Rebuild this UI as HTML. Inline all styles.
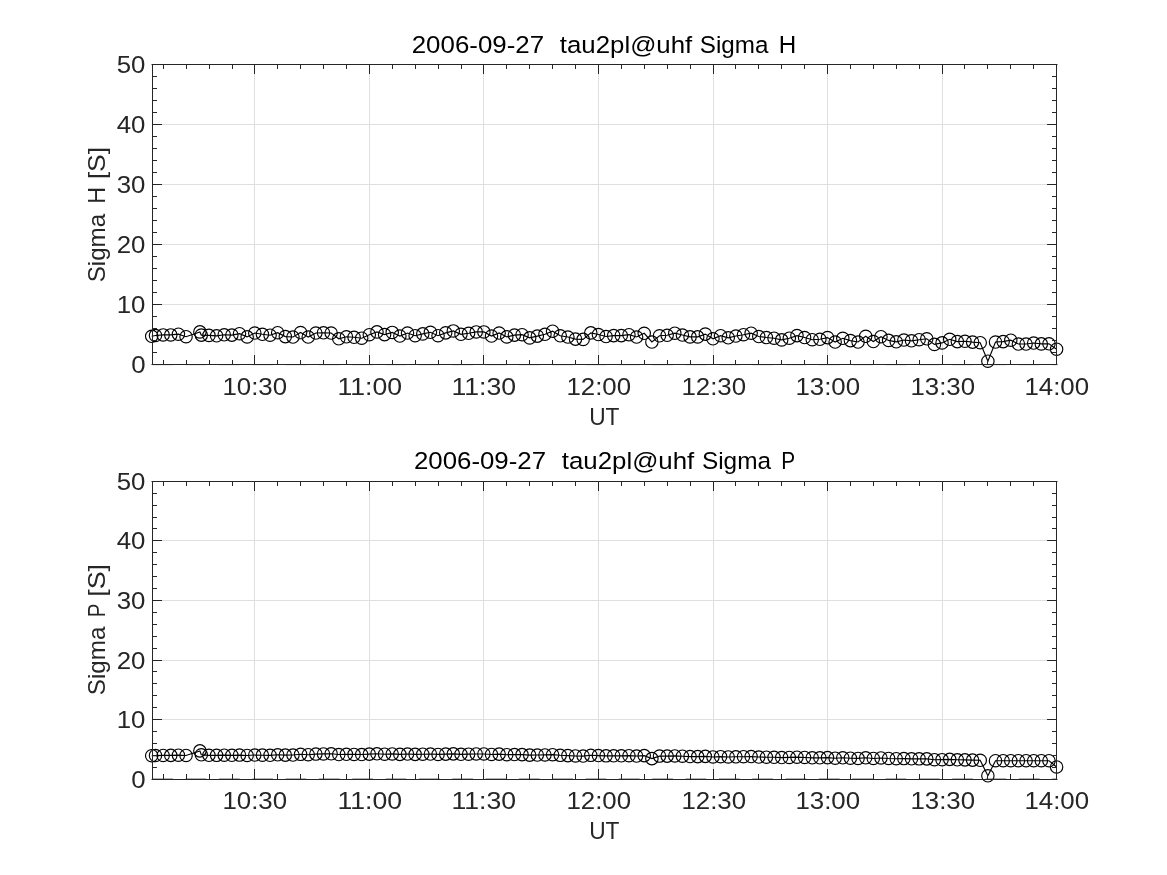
<!DOCTYPE html><html><head><meta charset="utf-8"><style>html,body{margin:0;padding:0;background:#fff;}svg{display:block;will-change:transform;}</style></head><body>
<svg width="1167" height="875" viewBox="0 0 1167 875">
<rect x="0" y="0" width="1167" height="875" fill="#ffffff"/>
<path d="M254.5 64.5V364.5M369.5 64.5V364.5M483.5 64.5V364.5M598.5 64.5V364.5M713.5 64.5V364.5M827.5 64.5V364.5M942.5 64.5V364.5M152.5 304.5H1056.5M152.5 244.5H1056.5M152.5 184.5H1056.5M152.5 124.5H1056.5" stroke="#dfdfdf" stroke-width="1" fill="none"/>
<path d="M152.3 365.5H1056.5" stroke="#ececec" stroke-width="1" stroke-dasharray="20.7 12.63" fill="none"/>
<polyline points="151.7,336.3 155.5,335.5 163.1,334.9 170.8,334.9 178.4,334.2 186.0,336.7 199.9,331.9 201.3,335.1 209.0,335.4 216.6,335.8 224.2,334.8 231.9,335.1 239.5,333.7 247.1,336.9 254.8,333.0 262.4,334.3 270.0,335.2 277.7,332.7 285.3,336.6 293.0,337.0 300.6,332.5 308.2,337.0 315.9,333.0 323.5,332.8 331.1,333.0 338.8,338.8 346.4,336.8 354.0,337.3 361.7,338.2 369.3,334.7 377.0,331.9 384.6,334.6 392.2,332.4 399.9,336.0 407.5,333.0 415.1,335.7 422.8,333.9 430.4,332.3 438.0,335.7 445.7,332.9 453.3,330.9 461.0,334.3 468.6,333.3 476.2,331.9 483.9,331.9 491.5,336.0 499.1,333.0 506.8,336.9 514.4,335.1 522.0,334.7 529.7,337.9 537.3,336.1 545.0,334.3 552.6,331.2 560.2,335.8 567.9,337.0 575.5,339.1 583.1,339.4 590.8,332.9 598.4,334.5 606.0,336.5 613.7,335.6 621.3,335.6 629.0,334.7 636.6,337.0 644.2,333.3 651.9,342.0 659.5,335.8 667.1,335.3 674.8,333.2 682.4,335.0 690.0,336.9 697.7,336.9 705.3,334.1 713.0,338.8 720.6,335.7 728.2,337.8 735.9,336.0 743.5,334.7 751.1,333.2 758.8,336.5 766.4,337.5 774.0,338.2 781.7,339.9 789.3,338.2 797.0,335.6 804.6,337.5 812.2,339.7 819.9,339.3 827.5,337.6 835.1,342.0 842.8,338.3 850.4,340.6 858.0,342.0 865.7,336.3 873.3,341.5 881.0,336.7 888.6,340.4 896.2,341.8 903.9,340.0 911.5,340.8 919.1,339.7 926.8,338.8 934.4,344.4 942.0,342.9 949.7,339.3 957.3,341.6 965.0,341.3 972.6,342.1 980.2,342.7 987.9,361.2 995.5,342.0 1003.1,341.6 1010.8,340.2 1018.4,344.0 1026.0,344.0 1033.7,343.0 1041.3,343.9 1049.0,343.8 1056.6,349.2" fill="none" stroke="#000" stroke-width="1.15"/>
<path d="M145.50 336.30a6.2 6.2 0 1 0 12.4 0a6.2 6.2 0 1 0 -12.4 0M149.30 335.50a6.2 6.2 0 1 0 12.4 0a6.2 6.2 0 1 0 -12.4 0M156.94 334.90a6.2 6.2 0 1 0 12.4 0a6.2 6.2 0 1 0 -12.4 0M164.57 334.90a6.2 6.2 0 1 0 12.4 0a6.2 6.2 0 1 0 -12.4 0M172.21 334.20a6.2 6.2 0 1 0 12.4 0a6.2 6.2 0 1 0 -12.4 0M179.85 336.70a6.2 6.2 0 1 0 12.4 0a6.2 6.2 0 1 0 -12.4 0M193.70 331.90a6.2 6.2 0 1 0 12.4 0a6.2 6.2 0 1 0 -12.4 0M195.12 335.10a6.2 6.2 0 1 0 12.4 0a6.2 6.2 0 1 0 -12.4 0M202.75 335.40a6.2 6.2 0 1 0 12.4 0a6.2 6.2 0 1 0 -12.4 0M210.39 335.80a6.2 6.2 0 1 0 12.4 0a6.2 6.2 0 1 0 -12.4 0M218.03 334.80a6.2 6.2 0 1 0 12.4 0a6.2 6.2 0 1 0 -12.4 0M225.66 335.10a6.2 6.2 0 1 0 12.4 0a6.2 6.2 0 1 0 -12.4 0M233.30 333.70a6.2 6.2 0 1 0 12.4 0a6.2 6.2 0 1 0 -12.4 0M240.94 336.90a6.2 6.2 0 1 0 12.4 0a6.2 6.2 0 1 0 -12.4 0M248.57 333.00a6.2 6.2 0 1 0 12.4 0a6.2 6.2 0 1 0 -12.4 0M256.21 334.30a6.2 6.2 0 1 0 12.4 0a6.2 6.2 0 1 0 -12.4 0M263.85 335.20a6.2 6.2 0 1 0 12.4 0a6.2 6.2 0 1 0 -12.4 0M271.48 332.70a6.2 6.2 0 1 0 12.4 0a6.2 6.2 0 1 0 -12.4 0M279.12 336.60a6.2 6.2 0 1 0 12.4 0a6.2 6.2 0 1 0 -12.4 0M286.76 337.00a6.2 6.2 0 1 0 12.4 0a6.2 6.2 0 1 0 -12.4 0M294.39 332.50a6.2 6.2 0 1 0 12.4 0a6.2 6.2 0 1 0 -12.4 0M302.03 337.00a6.2 6.2 0 1 0 12.4 0a6.2 6.2 0 1 0 -12.4 0M309.66 333.00a6.2 6.2 0 1 0 12.4 0a6.2 6.2 0 1 0 -12.4 0M317.30 332.80a6.2 6.2 0 1 0 12.4 0a6.2 6.2 0 1 0 -12.4 0M324.94 333.00a6.2 6.2 0 1 0 12.4 0a6.2 6.2 0 1 0 -12.4 0M332.57 338.80a6.2 6.2 0 1 0 12.4 0a6.2 6.2 0 1 0 -12.4 0M340.21 336.80a6.2 6.2 0 1 0 12.4 0a6.2 6.2 0 1 0 -12.4 0M347.85 337.30a6.2 6.2 0 1 0 12.4 0a6.2 6.2 0 1 0 -12.4 0M355.48 338.20a6.2 6.2 0 1 0 12.4 0a6.2 6.2 0 1 0 -12.4 0M363.12 334.70a6.2 6.2 0 1 0 12.4 0a6.2 6.2 0 1 0 -12.4 0M370.76 331.90a6.2 6.2 0 1 0 12.4 0a6.2 6.2 0 1 0 -12.4 0M378.39 334.60a6.2 6.2 0 1 0 12.4 0a6.2 6.2 0 1 0 -12.4 0M386.03 332.40a6.2 6.2 0 1 0 12.4 0a6.2 6.2 0 1 0 -12.4 0M393.66 336.00a6.2 6.2 0 1 0 12.4 0a6.2 6.2 0 1 0 -12.4 0M401.30 333.00a6.2 6.2 0 1 0 12.4 0a6.2 6.2 0 1 0 -12.4 0M408.94 335.70a6.2 6.2 0 1 0 12.4 0a6.2 6.2 0 1 0 -12.4 0M416.57 333.90a6.2 6.2 0 1 0 12.4 0a6.2 6.2 0 1 0 -12.4 0M424.21 332.30a6.2 6.2 0 1 0 12.4 0a6.2 6.2 0 1 0 -12.4 0M431.85 335.70a6.2 6.2 0 1 0 12.4 0a6.2 6.2 0 1 0 -12.4 0M439.48 332.85a6.2 6.2 0 1 0 12.4 0a6.2 6.2 0 1 0 -12.4 0M447.12 330.90a6.2 6.2 0 1 0 12.4 0a6.2 6.2 0 1 0 -12.4 0M454.76 334.30a6.2 6.2 0 1 0 12.4 0a6.2 6.2 0 1 0 -12.4 0M462.39 333.30a6.2 6.2 0 1 0 12.4 0a6.2 6.2 0 1 0 -12.4 0M470.03 331.90a6.2 6.2 0 1 0 12.4 0a6.2 6.2 0 1 0 -12.4 0M477.67 331.90a6.2 6.2 0 1 0 12.4 0a6.2 6.2 0 1 0 -12.4 0M485.30 336.00a6.2 6.2 0 1 0 12.4 0a6.2 6.2 0 1 0 -12.4 0M492.94 333.00a6.2 6.2 0 1 0 12.4 0a6.2 6.2 0 1 0 -12.4 0M500.57 336.90a6.2 6.2 0 1 0 12.4 0a6.2 6.2 0 1 0 -12.4 0M508.21 335.10a6.2 6.2 0 1 0 12.4 0a6.2 6.2 0 1 0 -12.4 0M515.85 334.70a6.2 6.2 0 1 0 12.4 0a6.2 6.2 0 1 0 -12.4 0M523.48 337.90a6.2 6.2 0 1 0 12.4 0a6.2 6.2 0 1 0 -12.4 0M531.12 336.10a6.2 6.2 0 1 0 12.4 0a6.2 6.2 0 1 0 -12.4 0M538.76 334.30a6.2 6.2 0 1 0 12.4 0a6.2 6.2 0 1 0 -12.4 0M546.39 331.20a6.2 6.2 0 1 0 12.4 0a6.2 6.2 0 1 0 -12.4 0M554.03 335.75a6.2 6.2 0 1 0 12.4 0a6.2 6.2 0 1 0 -12.4 0M561.67 337.00a6.2 6.2 0 1 0 12.4 0a6.2 6.2 0 1 0 -12.4 0M569.30 339.10a6.2 6.2 0 1 0 12.4 0a6.2 6.2 0 1 0 -12.4 0M576.94 339.40a6.2 6.2 0 1 0 12.4 0a6.2 6.2 0 1 0 -12.4 0M584.57 332.90a6.2 6.2 0 1 0 12.4 0a6.2 6.2 0 1 0 -12.4 0M592.21 334.50a6.2 6.2 0 1 0 12.4 0a6.2 6.2 0 1 0 -12.4 0M599.85 336.50a6.2 6.2 0 1 0 12.4 0a6.2 6.2 0 1 0 -12.4 0M607.48 335.60a6.2 6.2 0 1 0 12.4 0a6.2 6.2 0 1 0 -12.4 0M615.12 335.60a6.2 6.2 0 1 0 12.4 0a6.2 6.2 0 1 0 -12.4 0M622.76 334.70a6.2 6.2 0 1 0 12.4 0a6.2 6.2 0 1 0 -12.4 0M630.39 337.00a6.2 6.2 0 1 0 12.4 0a6.2 6.2 0 1 0 -12.4 0M638.03 333.30a6.2 6.2 0 1 0 12.4 0a6.2 6.2 0 1 0 -12.4 0M645.67 342.00a6.2 6.2 0 1 0 12.4 0a6.2 6.2 0 1 0 -12.4 0M653.30 335.80a6.2 6.2 0 1 0 12.4 0a6.2 6.2 0 1 0 -12.4 0M660.94 335.30a6.2 6.2 0 1 0 12.4 0a6.2 6.2 0 1 0 -12.4 0M668.58 333.20a6.2 6.2 0 1 0 12.4 0a6.2 6.2 0 1 0 -12.4 0M676.21 335.00a6.2 6.2 0 1 0 12.4 0a6.2 6.2 0 1 0 -12.4 0M683.85 336.90a6.2 6.2 0 1 0 12.4 0a6.2 6.2 0 1 0 -12.4 0M691.48 336.90a6.2 6.2 0 1 0 12.4 0a6.2 6.2 0 1 0 -12.4 0M699.12 334.10a6.2 6.2 0 1 0 12.4 0a6.2 6.2 0 1 0 -12.4 0M706.76 338.80a6.2 6.2 0 1 0 12.4 0a6.2 6.2 0 1 0 -12.4 0M714.39 335.70a6.2 6.2 0 1 0 12.4 0a6.2 6.2 0 1 0 -12.4 0M722.03 337.80a6.2 6.2 0 1 0 12.4 0a6.2 6.2 0 1 0 -12.4 0M729.67 336.00a6.2 6.2 0 1 0 12.4 0a6.2 6.2 0 1 0 -12.4 0M737.30 334.70a6.2 6.2 0 1 0 12.4 0a6.2 6.2 0 1 0 -12.4 0M744.94 333.20a6.2 6.2 0 1 0 12.4 0a6.2 6.2 0 1 0 -12.4 0M752.58 336.50a6.2 6.2 0 1 0 12.4 0a6.2 6.2 0 1 0 -12.4 0M760.21 337.50a6.2 6.2 0 1 0 12.4 0a6.2 6.2 0 1 0 -12.4 0M767.85 338.20a6.2 6.2 0 1 0 12.4 0a6.2 6.2 0 1 0 -12.4 0M775.48 339.90a6.2 6.2 0 1 0 12.4 0a6.2 6.2 0 1 0 -12.4 0M783.12 338.20a6.2 6.2 0 1 0 12.4 0a6.2 6.2 0 1 0 -12.4 0M790.76 335.60a6.2 6.2 0 1 0 12.4 0a6.2 6.2 0 1 0 -12.4 0M798.39 337.50a6.2 6.2 0 1 0 12.4 0a6.2 6.2 0 1 0 -12.4 0M806.03 339.70a6.2 6.2 0 1 0 12.4 0a6.2 6.2 0 1 0 -12.4 0M813.67 339.30a6.2 6.2 0 1 0 12.4 0a6.2 6.2 0 1 0 -12.4 0M821.30 337.60a6.2 6.2 0 1 0 12.4 0a6.2 6.2 0 1 0 -12.4 0M828.94 342.00a6.2 6.2 0 1 0 12.4 0a6.2 6.2 0 1 0 -12.4 0M836.58 338.30a6.2 6.2 0 1 0 12.4 0a6.2 6.2 0 1 0 -12.4 0M844.21 340.60a6.2 6.2 0 1 0 12.4 0a6.2 6.2 0 1 0 -12.4 0M851.85 342.00a6.2 6.2 0 1 0 12.4 0a6.2 6.2 0 1 0 -12.4 0M859.49 336.30a6.2 6.2 0 1 0 12.4 0a6.2 6.2 0 1 0 -12.4 0M867.12 341.50a6.2 6.2 0 1 0 12.4 0a6.2 6.2 0 1 0 -12.4 0M874.76 336.70a6.2 6.2 0 1 0 12.4 0a6.2 6.2 0 1 0 -12.4 0M882.39 340.40a6.2 6.2 0 1 0 12.4 0a6.2 6.2 0 1 0 -12.4 0M890.03 341.80a6.2 6.2 0 1 0 12.4 0a6.2 6.2 0 1 0 -12.4 0M897.67 340.00a6.2 6.2 0 1 0 12.4 0a6.2 6.2 0 1 0 -12.4 0M905.30 340.80a6.2 6.2 0 1 0 12.4 0a6.2 6.2 0 1 0 -12.4 0M912.94 339.70a6.2 6.2 0 1 0 12.4 0a6.2 6.2 0 1 0 -12.4 0M920.58 338.80a6.2 6.2 0 1 0 12.4 0a6.2 6.2 0 1 0 -12.4 0M928.21 344.40a6.2 6.2 0 1 0 12.4 0a6.2 6.2 0 1 0 -12.4 0M935.85 342.90a6.2 6.2 0 1 0 12.4 0a6.2 6.2 0 1 0 -12.4 0M943.49 339.30a6.2 6.2 0 1 0 12.4 0a6.2 6.2 0 1 0 -12.4 0M951.12 341.60a6.2 6.2 0 1 0 12.4 0a6.2 6.2 0 1 0 -12.4 0M958.76 341.30a6.2 6.2 0 1 0 12.4 0a6.2 6.2 0 1 0 -12.4 0M966.39 342.10a6.2 6.2 0 1 0 12.4 0a6.2 6.2 0 1 0 -12.4 0M974.03 342.70a6.2 6.2 0 1 0 12.4 0a6.2 6.2 0 1 0 -12.4 0M981.67 361.20a6.2 6.2 0 1 0 12.4 0a6.2 6.2 0 1 0 -12.4 0M989.30 342.00a6.2 6.2 0 1 0 12.4 0a6.2 6.2 0 1 0 -12.4 0M996.94 341.60a6.2 6.2 0 1 0 12.4 0a6.2 6.2 0 1 0 -12.4 0M1004.58 340.20a6.2 6.2 0 1 0 12.4 0a6.2 6.2 0 1 0 -12.4 0M1012.21 344.00a6.2 6.2 0 1 0 12.4 0a6.2 6.2 0 1 0 -12.4 0M1019.85 344.00a6.2 6.2 0 1 0 12.4 0a6.2 6.2 0 1 0 -12.4 0M1027.49 343.00a6.2 6.2 0 1 0 12.4 0a6.2 6.2 0 1 0 -12.4 0M1035.12 343.90a6.2 6.2 0 1 0 12.4 0a6.2 6.2 0 1 0 -12.4 0M1042.76 343.80a6.2 6.2 0 1 0 12.4 0a6.2 6.2 0 1 0 -12.4 0M1050.40 349.20a6.2 6.2 0 1 0 12.4 0a6.2 6.2 0 1 0 -12.4 0" fill="none" stroke="#000" stroke-width="1.15"/>
<path d="M163.5 364.5v-4M163.5 64.5v4M186.5 364.5v-4M186.5 64.5v4M209.5 364.5v-4M209.5 64.5v4M232.5 364.5v-4M232.5 64.5v4M254.5 364.5v-9M254.5 64.5v9M277.5 364.5v-4M277.5 64.5v4M300.5 364.5v-4M300.5 64.5v4M323.5 364.5v-4M323.5 64.5v4M346.5 364.5v-4M346.5 64.5v4M369.5 364.5v-9M369.5 64.5v9M392.5 364.5v-4M392.5 64.5v4M415.5 364.5v-4M415.5 64.5v4M438.5 364.5v-4M438.5 64.5v4M461.5 364.5v-4M461.5 64.5v4M483.5 364.5v-9M483.5 64.5v9M506.5 364.5v-4M506.5 64.5v4M529.5 364.5v-4M529.5 64.5v4M552.5 364.5v-4M552.5 64.5v4M575.5 364.5v-4M575.5 64.5v4M598.5 364.5v-9M598.5 64.5v9M621.5 364.5v-4M621.5 64.5v4M644.5 364.5v-4M644.5 64.5v4M667.5 364.5v-4M667.5 64.5v4M690.5 364.5v-4M690.5 64.5v4M713.5 364.5v-9M713.5 64.5v9M735.5 364.5v-4M735.5 64.5v4M758.5 364.5v-4M758.5 64.5v4M781.5 364.5v-4M781.5 64.5v4M804.5 364.5v-4M804.5 64.5v4M827.5 364.5v-9M827.5 64.5v9M850.5 364.5v-4M850.5 64.5v4M873.5 364.5v-4M873.5 64.5v4M896.5 364.5v-4M896.5 64.5v4M919.5 364.5v-4M919.5 64.5v4M942.5 364.5v-9M942.5 64.5v9M964.5 364.5v-4M964.5 64.5v4M987.5 364.5v-4M987.5 64.5v4M1010.5 364.5v-4M1010.5 64.5v4M1033.5 364.5v-4M1033.5 64.5v4M1056.5 364.5v-9M1056.5 64.5v9M152.5 364.5h9M1056.5 364.5h-9M152.5 352.5h4M1056.5 352.5h-4M152.5 340.5h4M1056.5 340.5h-4M152.5 328.5h4M1056.5 328.5h-4M152.5 316.5h4M1056.5 316.5h-4M152.5 304.5h9M1056.5 304.5h-9M152.5 292.5h4M1056.5 292.5h-4M152.5 280.5h4M1056.5 280.5h-4M152.5 268.5h4M1056.5 268.5h-4M152.5 256.5h4M1056.5 256.5h-4M152.5 244.5h9M1056.5 244.5h-9M152.5 232.5h4M1056.5 232.5h-4M152.5 220.5h4M1056.5 220.5h-4M152.5 208.5h4M1056.5 208.5h-4M152.5 196.5h4M1056.5 196.5h-4M152.5 184.5h9M1056.5 184.5h-9M152.5 172.5h4M1056.5 172.5h-4M152.5 160.5h4M1056.5 160.5h-4M152.5 148.5h4M1056.5 148.5h-4M152.5 136.5h4M1056.5 136.5h-4M152.5 124.5h9M1056.5 124.5h-9M152.5 112.5h4M1056.5 112.5h-4M152.5 100.5h4M1056.5 100.5h-4M152.5 88.5h4M1056.5 88.5h-4M152.5 76.5h4M1056.5 76.5h-4M152.5 64.5h9M1056.5 64.5h-9M152.0 64.5H1057.0M152.0 364.5H1057.0M152.5 64.5V364.5M1056.5 64.5V364.5" stroke="#262626" stroke-width="1" fill="none" stroke-linecap="square"/>
<path d="M254.5 481.5V779.5M369.5 481.5V779.5M483.5 481.5V779.5M598.5 481.5V779.5M713.5 481.5V779.5M827.5 481.5V779.5M942.5 481.5V779.5M152.5 719.5H1056.5M152.5 660.5H1056.5M152.5 600.5H1056.5M152.5 540.5H1056.5" stroke="#dfdfdf" stroke-width="1" fill="none"/>
<path d="M152.3 778.5H1056.5" stroke="#b4b4b4" stroke-width="1" stroke-dasharray="20.7 12.63" fill="none"/>
<polyline points="151.7,755.7 155.5,755.6 163.1,755.4 170.8,755.4 178.4,755.2 186.0,755.5 199.9,750.9 201.3,754.8 209.0,755.3 216.6,755.3 224.2,755.2 231.9,755.3 239.5,755.1 247.1,755.5 254.8,755.0 262.4,755.2 270.0,755.3 277.7,754.8 285.3,755.1 293.0,755.0 300.6,754.3 308.2,754.7 315.9,754.1 323.5,753.9 331.1,753.8 338.8,754.5 346.4,754.3 354.0,754.4 361.7,754.5 369.3,754.1 377.0,753.8 384.6,754.2 392.2,753.9 399.9,754.4 407.5,754.0 415.1,754.4 422.8,754.2 430.4,754.0 438.0,754.4 445.7,754.1 453.3,753.9 461.0,754.3 468.6,754.1 476.2,754.0 483.9,754.0 491.5,754.5 499.1,754.1 506.8,754.7 514.4,754.6 522.0,754.6 529.7,755.1 537.3,755.0 545.0,754.9 552.6,754.7 560.2,755.3 567.9,755.6 575.5,756.0 583.1,756.1 590.8,755.3 598.4,755.6 606.0,755.8 613.7,755.8 621.3,755.8 629.0,755.7 636.6,756.0 644.2,755.6 651.9,758.6 659.5,756.1 667.1,756.1 674.8,755.9 682.4,756.2 690.0,756.6 697.7,756.6 705.3,756.4 713.0,757.0 720.6,756.7 728.2,757.0 735.9,756.8 743.5,756.7 751.1,756.6 758.8,757.0 766.4,757.2 774.0,757.3 781.7,757.6 789.3,757.4 797.0,757.2 804.6,757.5 812.2,757.8 819.9,757.8 827.5,757.6 835.1,758.2 842.8,757.8 850.4,758.2 858.0,758.4 865.7,757.8 873.3,758.5 881.0,758.0 888.6,758.5 896.2,758.7 903.9,758.6 911.5,758.8 919.1,758.8 926.8,758.9 934.4,759.7 942.0,759.6 949.7,759.4 957.3,759.8 965.0,759.9 972.6,760.1 980.2,760.3 987.9,775.8 995.5,760.7 1003.1,760.7 1010.8,760.7 1018.4,760.7 1026.0,760.7 1033.7,760.7 1041.3,760.7 1049.0,760.7 1056.6,767.0" fill="none" stroke="#000" stroke-width="1.15"/>
<path d="M145.50 755.69a6.2 6.2 0 1 0 12.4 0a6.2 6.2 0 1 0 -12.4 0M149.30 755.57a6.2 6.2 0 1 0 12.4 0a6.2 6.2 0 1 0 -12.4 0M156.94 755.44a6.2 6.2 0 1 0 12.4 0a6.2 6.2 0 1 0 -12.4 0M164.57 755.38a6.2 6.2 0 1 0 12.4 0a6.2 6.2 0 1 0 -12.4 0M172.21 755.24a6.2 6.2 0 1 0 12.4 0a6.2 6.2 0 1 0 -12.4 0M179.85 755.48a6.2 6.2 0 1 0 12.4 0a6.2 6.2 0 1 0 -12.4 0M193.70 750.89a6.2 6.2 0 1 0 12.4 0a6.2 6.2 0 1 0 -12.4 0M195.12 754.77a6.2 6.2 0 1 0 12.4 0a6.2 6.2 0 1 0 -12.4 0M202.75 755.29a6.2 6.2 0 1 0 12.4 0a6.2 6.2 0 1 0 -12.4 0M210.39 755.34a6.2 6.2 0 1 0 12.4 0a6.2 6.2 0 1 0 -12.4 0M218.03 755.22a6.2 6.2 0 1 0 12.4 0a6.2 6.2 0 1 0 -12.4 0M225.66 755.25a6.2 6.2 0 1 0 12.4 0a6.2 6.2 0 1 0 -12.4 0M233.30 755.09a6.2 6.2 0 1 0 12.4 0a6.2 6.2 0 1 0 -12.4 0M240.94 755.47a6.2 6.2 0 1 0 12.4 0a6.2 6.2 0 1 0 -12.4 0M248.57 755.00a6.2 6.2 0 1 0 12.4 0a6.2 6.2 0 1 0 -12.4 0M256.21 755.16a6.2 6.2 0 1 0 12.4 0a6.2 6.2 0 1 0 -12.4 0M263.85 755.27a6.2 6.2 0 1 0 12.4 0a6.2 6.2 0 1 0 -12.4 0M271.48 754.82a6.2 6.2 0 1 0 12.4 0a6.2 6.2 0 1 0 -12.4 0M279.12 755.13a6.2 6.2 0 1 0 12.4 0a6.2 6.2 0 1 0 -12.4 0M286.76 755.03a6.2 6.2 0 1 0 12.4 0a6.2 6.2 0 1 0 -12.4 0M294.39 754.34a6.2 6.2 0 1 0 12.4 0a6.2 6.2 0 1 0 -12.4 0M302.03 754.72a6.2 6.2 0 1 0 12.4 0a6.2 6.2 0 1 0 -12.4 0M309.66 754.09a6.2 6.2 0 1 0 12.4 0a6.2 6.2 0 1 0 -12.4 0M317.30 753.92a6.2 6.2 0 1 0 12.4 0a6.2 6.2 0 1 0 -12.4 0M324.94 753.82a6.2 6.2 0 1 0 12.4 0a6.2 6.2 0 1 0 -12.4 0M332.57 754.53a6.2 6.2 0 1 0 12.4 0a6.2 6.2 0 1 0 -12.4 0M340.21 754.31a6.2 6.2 0 1 0 12.4 0a6.2 6.2 0 1 0 -12.4 0M347.85 754.40a6.2 6.2 0 1 0 12.4 0a6.2 6.2 0 1 0 -12.4 0M355.48 754.53a6.2 6.2 0 1 0 12.4 0a6.2 6.2 0 1 0 -12.4 0M363.12 754.13a6.2 6.2 0 1 0 12.4 0a6.2 6.2 0 1 0 -12.4 0M370.76 753.82a6.2 6.2 0 1 0 12.4 0a6.2 6.2 0 1 0 -12.4 0M378.39 754.17a6.2 6.2 0 1 0 12.4 0a6.2 6.2 0 1 0 -12.4 0M386.03 753.93a6.2 6.2 0 1 0 12.4 0a6.2 6.2 0 1 0 -12.4 0M393.66 754.38a6.2 6.2 0 1 0 12.4 0a6.2 6.2 0 1 0 -12.4 0M401.30 754.04a6.2 6.2 0 1 0 12.4 0a6.2 6.2 0 1 0 -12.4 0M408.94 754.39a6.2 6.2 0 1 0 12.4 0a6.2 6.2 0 1 0 -12.4 0M416.57 754.20a6.2 6.2 0 1 0 12.4 0a6.2 6.2 0 1 0 -12.4 0M424.21 754.03a6.2 6.2 0 1 0 12.4 0a6.2 6.2 0 1 0 -12.4 0M431.85 754.43a6.2 6.2 0 1 0 12.4 0a6.2 6.2 0 1 0 -12.4 0M439.48 754.09a6.2 6.2 0 1 0 12.4 0a6.2 6.2 0 1 0 -12.4 0M447.12 753.86a6.2 6.2 0 1 0 12.4 0a6.2 6.2 0 1 0 -12.4 0M454.76 754.27a6.2 6.2 0 1 0 12.4 0a6.2 6.2 0 1 0 -12.4 0M462.39 754.15a6.2 6.2 0 1 0 12.4 0a6.2 6.2 0 1 0 -12.4 0M470.03 753.98a6.2 6.2 0 1 0 12.4 0a6.2 6.2 0 1 0 -12.4 0M477.67 753.98a6.2 6.2 0 1 0 12.4 0a6.2 6.2 0 1 0 -12.4 0M485.30 754.47a6.2 6.2 0 1 0 12.4 0a6.2 6.2 0 1 0 -12.4 0M492.94 754.11a6.2 6.2 0 1 0 12.4 0a6.2 6.2 0 1 0 -12.4 0M500.57 754.68a6.2 6.2 0 1 0 12.4 0a6.2 6.2 0 1 0 -12.4 0M508.21 754.58a6.2 6.2 0 1 0 12.4 0a6.2 6.2 0 1 0 -12.4 0M515.85 754.64a6.2 6.2 0 1 0 12.4 0a6.2 6.2 0 1 0 -12.4 0M523.48 755.14a6.2 6.2 0 1 0 12.4 0a6.2 6.2 0 1 0 -12.4 0M531.12 755.04a6.2 6.2 0 1 0 12.4 0a6.2 6.2 0 1 0 -12.4 0M538.76 754.94a6.2 6.2 0 1 0 12.4 0a6.2 6.2 0 1 0 -12.4 0M546.39 754.68a6.2 6.2 0 1 0 12.4 0a6.2 6.2 0 1 0 -12.4 0M554.03 755.34a6.2 6.2 0 1 0 12.4 0a6.2 6.2 0 1 0 -12.4 0M561.67 755.60a6.2 6.2 0 1 0 12.4 0a6.2 6.2 0 1 0 -12.4 0M569.30 755.96a6.2 6.2 0 1 0 12.4 0a6.2 6.2 0 1 0 -12.4 0M576.94 756.08a6.2 6.2 0 1 0 12.4 0a6.2 6.2 0 1 0 -12.4 0M584.57 755.34a6.2 6.2 0 1 0 12.4 0a6.2 6.2 0 1 0 -12.4 0M592.21 755.57a6.2 6.2 0 1 0 12.4 0a6.2 6.2 0 1 0 -12.4 0M599.85 755.84a6.2 6.2 0 1 0 12.4 0a6.2 6.2 0 1 0 -12.4 0M607.48 755.77a6.2 6.2 0 1 0 12.4 0a6.2 6.2 0 1 0 -12.4 0M615.12 755.80a6.2 6.2 0 1 0 12.4 0a6.2 6.2 0 1 0 -12.4 0M622.76 755.73a6.2 6.2 0 1 0 12.4 0a6.2 6.2 0 1 0 -12.4 0M630.39 756.04a6.2 6.2 0 1 0 12.4 0a6.2 6.2 0 1 0 -12.4 0M638.03 755.63a6.2 6.2 0 1 0 12.4 0a6.2 6.2 0 1 0 -12.4 0M645.67 758.64a6.2 6.2 0 1 0 12.4 0a6.2 6.2 0 1 0 -12.4 0M653.30 756.09a6.2 6.2 0 1 0 12.4 0a6.2 6.2 0 1 0 -12.4 0M660.94 756.11a6.2 6.2 0 1 0 12.4 0a6.2 6.2 0 1 0 -12.4 0M668.58 755.95a6.2 6.2 0 1 0 12.4 0a6.2 6.2 0 1 0 -12.4 0M676.21 756.24a6.2 6.2 0 1 0 12.4 0a6.2 6.2 0 1 0 -12.4 0M683.85 756.55a6.2 6.2 0 1 0 12.4 0a6.2 6.2 0 1 0 -12.4 0M691.48 756.64a6.2 6.2 0 1 0 12.4 0a6.2 6.2 0 1 0 -12.4 0M699.12 756.36a6.2 6.2 0 1 0 12.4 0a6.2 6.2 0 1 0 -12.4 0M706.76 756.98a6.2 6.2 0 1 0 12.4 0a6.2 6.2 0 1 0 -12.4 0M714.39 756.66a6.2 6.2 0 1 0 12.4 0a6.2 6.2 0 1 0 -12.4 0M722.03 756.96a6.2 6.2 0 1 0 12.4 0a6.2 6.2 0 1 0 -12.4 0M729.67 756.80a6.2 6.2 0 1 0 12.4 0a6.2 6.2 0 1 0 -12.4 0M737.30 756.70a6.2 6.2 0 1 0 12.4 0a6.2 6.2 0 1 0 -12.4 0M744.94 756.57a6.2 6.2 0 1 0 12.4 0a6.2 6.2 0 1 0 -12.4 0M752.58 757.02a6.2 6.2 0 1 0 12.4 0a6.2 6.2 0 1 0 -12.4 0M760.21 757.19a6.2 6.2 0 1 0 12.4 0a6.2 6.2 0 1 0 -12.4 0M767.85 757.33a6.2 6.2 0 1 0 12.4 0a6.2 6.2 0 1 0 -12.4 0M775.48 757.58a6.2 6.2 0 1 0 12.4 0a6.2 6.2 0 1 0 -12.4 0M783.12 757.43a6.2 6.2 0 1 0 12.4 0a6.2 6.2 0 1 0 -12.4 0M790.76 757.17a6.2 6.2 0 1 0 12.4 0a6.2 6.2 0 1 0 -12.4 0M798.39 757.45a6.2 6.2 0 1 0 12.4 0a6.2 6.2 0 1 0 -12.4 0M806.03 757.77a6.2 6.2 0 1 0 12.4 0a6.2 6.2 0 1 0 -12.4 0M813.67 757.77a6.2 6.2 0 1 0 12.4 0a6.2 6.2 0 1 0 -12.4 0M821.30 757.62a6.2 6.2 0 1 0 12.4 0a6.2 6.2 0 1 0 -12.4 0M828.94 758.21a6.2 6.2 0 1 0 12.4 0a6.2 6.2 0 1 0 -12.4 0M836.58 757.83a6.2 6.2 0 1 0 12.4 0a6.2 6.2 0 1 0 -12.4 0M844.21 758.17a6.2 6.2 0 1 0 12.4 0a6.2 6.2 0 1 0 -12.4 0M851.85 758.40a6.2 6.2 0 1 0 12.4 0a6.2 6.2 0 1 0 -12.4 0M859.49 757.79a6.2 6.2 0 1 0 12.4 0a6.2 6.2 0 1 0 -12.4 0M867.12 758.47a6.2 6.2 0 1 0 12.4 0a6.2 6.2 0 1 0 -12.4 0M874.76 757.97a6.2 6.2 0 1 0 12.4 0a6.2 6.2 0 1 0 -12.4 0M882.39 758.47a6.2 6.2 0 1 0 12.4 0a6.2 6.2 0 1 0 -12.4 0M890.03 758.70a6.2 6.2 0 1 0 12.4 0a6.2 6.2 0 1 0 -12.4 0M897.67 758.59a6.2 6.2 0 1 0 12.4 0a6.2 6.2 0 1 0 -12.4 0M905.30 758.83a6.2 6.2 0 1 0 12.4 0a6.2 6.2 0 1 0 -12.4 0M912.94 758.84a6.2 6.2 0 1 0 12.4 0a6.2 6.2 0 1 0 -12.4 0M920.58 758.88a6.2 6.2 0 1 0 12.4 0a6.2 6.2 0 1 0 -12.4 0M928.21 759.69a6.2 6.2 0 1 0 12.4 0a6.2 6.2 0 1 0 -12.4 0M935.85 759.65a6.2 6.2 0 1 0 12.4 0a6.2 6.2 0 1 0 -12.4 0M943.49 759.36a6.2 6.2 0 1 0 12.4 0a6.2 6.2 0 1 0 -12.4 0M951.12 759.78a6.2 6.2 0 1 0 12.4 0a6.2 6.2 0 1 0 -12.4 0M958.76 759.89a6.2 6.2 0 1 0 12.4 0a6.2 6.2 0 1 0 -12.4 0M966.39 760.12a6.2 6.2 0 1 0 12.4 0a6.2 6.2 0 1 0 -12.4 0M974.03 760.33a6.2 6.2 0 1 0 12.4 0a6.2 6.2 0 1 0 -12.4 0M981.67 775.80a6.2 6.2 0 1 0 12.4 0a6.2 6.2 0 1 0 -12.4 0M989.30 760.73a6.2 6.2 0 1 0 12.4 0a6.2 6.2 0 1 0 -12.4 0M996.94 760.73a6.2 6.2 0 1 0 12.4 0a6.2 6.2 0 1 0 -12.4 0M1004.58 760.73a6.2 6.2 0 1 0 12.4 0a6.2 6.2 0 1 0 -12.4 0M1012.21 760.73a6.2 6.2 0 1 0 12.4 0a6.2 6.2 0 1 0 -12.4 0M1019.85 760.73a6.2 6.2 0 1 0 12.4 0a6.2 6.2 0 1 0 -12.4 0M1027.49 760.73a6.2 6.2 0 1 0 12.4 0a6.2 6.2 0 1 0 -12.4 0M1035.12 760.73a6.2 6.2 0 1 0 12.4 0a6.2 6.2 0 1 0 -12.4 0M1042.76 760.73a6.2 6.2 0 1 0 12.4 0a6.2 6.2 0 1 0 -12.4 0M1050.40 766.98a6.2 6.2 0 1 0 12.4 0a6.2 6.2 0 1 0 -12.4 0" fill="none" stroke="#000" stroke-width="1.15"/>
<path d="M163.5 779.5v-5M163.5 481.5v4M186.5 779.5v-5M186.5 481.5v4M209.5 779.5v-5M209.5 481.5v4M232.5 779.5v-5M232.5 481.5v4M254.5 779.5v-10M254.5 481.5v9M277.5 779.5v-5M277.5 481.5v4M300.5 779.5v-5M300.5 481.5v4M323.5 779.5v-5M323.5 481.5v4M346.5 779.5v-5M346.5 481.5v4M369.5 779.5v-10M369.5 481.5v9M392.5 779.5v-5M392.5 481.5v4M415.5 779.5v-5M415.5 481.5v4M438.5 779.5v-5M438.5 481.5v4M461.5 779.5v-5M461.5 481.5v4M483.5 779.5v-10M483.5 481.5v9M506.5 779.5v-5M506.5 481.5v4M529.5 779.5v-5M529.5 481.5v4M552.5 779.5v-5M552.5 481.5v4M575.5 779.5v-5M575.5 481.5v4M598.5 779.5v-10M598.5 481.5v9M621.5 779.5v-5M621.5 481.5v4M644.5 779.5v-5M644.5 481.5v4M667.5 779.5v-5M667.5 481.5v4M690.5 779.5v-5M690.5 481.5v4M713.5 779.5v-10M713.5 481.5v9M735.5 779.5v-5M735.5 481.5v4M758.5 779.5v-5M758.5 481.5v4M781.5 779.5v-5M781.5 481.5v4M804.5 779.5v-5M804.5 481.5v4M827.5 779.5v-10M827.5 481.5v9M850.5 779.5v-5M850.5 481.5v4M873.5 779.5v-5M873.5 481.5v4M896.5 779.5v-5M896.5 481.5v4M919.5 779.5v-5M919.5 481.5v4M942.5 779.5v-10M942.5 481.5v9M964.5 779.5v-5M964.5 481.5v4M987.5 779.5v-5M987.5 481.5v4M1010.5 779.5v-5M1010.5 481.5v4M1033.5 779.5v-5M1033.5 481.5v4M1056.5 779.5v-10M1056.5 481.5v9M152.5 779.5h9M1056.5 779.5h-9M152.5 767.5h4M1056.5 767.5h-4M152.5 755.5h4M1056.5 755.5h-4M152.5 743.5h4M1056.5 743.5h-4M152.5 731.5h4M1056.5 731.5h-4M152.5 719.5h9M1056.5 719.5h-9M152.5 707.5h4M1056.5 707.5h-4M152.5 695.5h4M1056.5 695.5h-4M152.5 683.5h4M1056.5 683.5h-4M152.5 671.5h4M1056.5 671.5h-4M152.5 660.5h9M1056.5 660.5h-9M152.5 648.5h4M1056.5 648.5h-4M152.5 636.5h4M1056.5 636.5h-4M152.5 624.5h4M1056.5 624.5h-4M152.5 612.5h4M1056.5 612.5h-4M152.5 600.5h9M1056.5 600.5h-9M152.5 588.5h4M1056.5 588.5h-4M152.5 576.5h4M1056.5 576.5h-4M152.5 564.5h4M1056.5 564.5h-4M152.5 552.5h4M1056.5 552.5h-4M152.5 540.5h9M1056.5 540.5h-9M152.5 528.5h4M1056.5 528.5h-4M152.5 517.5h4M1056.5 517.5h-4M152.5 505.5h4M1056.5 505.5h-4M152.5 493.5h4M1056.5 493.5h-4M152.5 481.5h9M1056.5 481.5h-9M152.0 481.5H1057.0M152.0 779.5H1057.0M152.5 481.5V779.5M1056.5 481.5V779.5" stroke="#262626" stroke-width="1" fill="none" stroke-linecap="square"/>
<g font-family="'Liberation Sans', sans-serif" fill="#262626" font-size="23.7">
<text x="411.74" y="53.00" fill="#000" textLength="132.30" lengthAdjust="spacingAndGlyphs">2006-09-27</text>
<text x="559.79" y="53.00" fill="#000" textLength="132.45" lengthAdjust="spacingAndGlyphs">tau2pl@uhf</text>
<text x="699.85" y="53.00" fill="#000" textLength="68.60" lengthAdjust="spacingAndGlyphs">Sigma</text>
<text x="778.66" y="53.00" fill="#000" textLength="17.47" lengthAdjust="spacingAndGlyphs">H</text>
<text x="413.94" y="468.60" fill="#000" textLength="132.10" lengthAdjust="spacingAndGlyphs">2006-09-27</text>
<text x="561.79" y="468.60" fill="#000" textLength="132.45" lengthAdjust="spacingAndGlyphs">tau2pl@uhf</text>
<text x="701.94" y="468.60" fill="#000" textLength="69.11" lengthAdjust="spacingAndGlyphs">Sigma</text>
<text x="781.34" y="468.60" fill="#000" textLength="13.91" lengthAdjust="spacingAndGlyphs">P</text>
<text x="131.15" y="373.10" textLength="14.37" lengthAdjust="spacingAndGlyphs">0</text>
<text x="116.70" y="313.10" textLength="28.73" lengthAdjust="spacingAndGlyphs">10</text>
<text x="116.70" y="253.10" textLength="28.73" lengthAdjust="spacingAndGlyphs">20</text>
<text x="116.70" y="193.10" textLength="28.73" lengthAdjust="spacingAndGlyphs">30</text>
<text x="116.70" y="133.10" textLength="28.73" lengthAdjust="spacingAndGlyphs">40</text>
<text x="116.70" y="73.10" textLength="28.73" lengthAdjust="spacingAndGlyphs">50</text>
<text x="131.15" y="788.00" textLength="14.37" lengthAdjust="spacingAndGlyphs">0</text>
<text x="116.70" y="728.00" textLength="28.73" lengthAdjust="spacingAndGlyphs">10</text>
<text x="116.70" y="669.00" textLength="28.73" lengthAdjust="spacingAndGlyphs">20</text>
<text x="116.70" y="609.00" textLength="28.73" lengthAdjust="spacingAndGlyphs">30</text>
<text x="116.70" y="549.00" textLength="28.73" lengthAdjust="spacingAndGlyphs">40</text>
<text x="116.70" y="490.00" textLength="28.73" lengthAdjust="spacingAndGlyphs">50</text>
<text x="254.75" y="395.1" text-anchor="middle" textLength="64.64" lengthAdjust="spacingAndGlyphs">10:30</text>
<text x="254.75" y="808.9" text-anchor="middle" textLength="64.64" lengthAdjust="spacingAndGlyphs">10:30</text>
<text x="369.75" y="395.1" text-anchor="middle" textLength="64.64" lengthAdjust="spacingAndGlyphs">11:00</text>
<text x="369.75" y="808.9" text-anchor="middle" textLength="64.64" lengthAdjust="spacingAndGlyphs">11:00</text>
<text x="483.75" y="395.1" text-anchor="middle" textLength="64.64" lengthAdjust="spacingAndGlyphs">11:30</text>
<text x="483.75" y="808.9" text-anchor="middle" textLength="64.64" lengthAdjust="spacingAndGlyphs">11:30</text>
<text x="598.75" y="395.1" text-anchor="middle" textLength="64.64" lengthAdjust="spacingAndGlyphs">12:00</text>
<text x="598.75" y="808.9" text-anchor="middle" textLength="64.64" lengthAdjust="spacingAndGlyphs">12:00</text>
<text x="713.75" y="395.1" text-anchor="middle" textLength="64.64" lengthAdjust="spacingAndGlyphs">12:30</text>
<text x="713.75" y="808.9" text-anchor="middle" textLength="64.64" lengthAdjust="spacingAndGlyphs">12:30</text>
<text x="827.75" y="395.1" text-anchor="middle" textLength="64.64" lengthAdjust="spacingAndGlyphs">13:00</text>
<text x="827.75" y="808.9" text-anchor="middle" textLength="64.64" lengthAdjust="spacingAndGlyphs">13:00</text>
<text x="942.75" y="395.1" text-anchor="middle" textLength="64.64" lengthAdjust="spacingAndGlyphs">13:30</text>
<text x="942.75" y="808.9" text-anchor="middle" textLength="64.64" lengthAdjust="spacingAndGlyphs">13:30</text>
<text x="1056.75" y="395.1" text-anchor="middle" textLength="64.64" lengthAdjust="spacingAndGlyphs">14:00</text>
<text x="1056.75" y="808.9" text-anchor="middle" textLength="64.64" lengthAdjust="spacingAndGlyphs">14:00</text>
<text x="589.20" y="424.70" textLength="30.26" lengthAdjust="spacingAndGlyphs">UT</text>
<text x="589.20" y="838.70" textLength="30.26" lengthAdjust="spacingAndGlyphs">UT</text>
<text transform="translate(104.90,282.25) rotate(-90)" x="0" y="0" textLength="68.40" lengthAdjust="spacingAndGlyphs">Sigma</text>
<text transform="translate(104.90,203.77) rotate(-90)" x="0" y="0" textLength="16.82" lengthAdjust="spacingAndGlyphs">H</text>
<text transform="translate(104.90,179.36) rotate(-90)" x="0" y="0" textLength="32.39" lengthAdjust="spacingAndGlyphs">[S]</text>
<text transform="translate(104.90,695.15) rotate(-90)" x="0" y="0" textLength="68.50" lengthAdjust="spacingAndGlyphs">Sigma</text>
<text transform="translate(104.90,617.33) rotate(-90)" x="0" y="0" textLength="13.66" lengthAdjust="spacingAndGlyphs">P</text>
<text transform="translate(104.90,596.68) rotate(-90)" x="0" y="0" textLength="32.73" lengthAdjust="spacingAndGlyphs">[S]</text>
</g>
</svg></body></html>
